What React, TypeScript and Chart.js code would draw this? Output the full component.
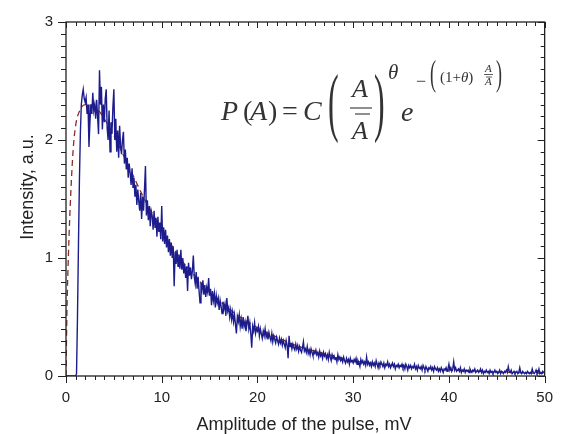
import React, { useEffect, useRef } from "react";
import { Chart, registerables } from "chart.js";

Chart.register(...registerables);

// Measured pulse-amplitude spectrum, sampled every 0.1 mV from 0 to 50 mV
const blueStep = 0.1;
const blueY: number[] = [
  0, 0, 0, 0, 0, 0, 0, 0, 0, 0,
  0, 0.02, 0.5, 1.1, 1.65, 2.05, 2.3, 2.38, 2.43, 2.35,
  2.32, 2.36, 2.22, 2.3, 1.94, 2.15, 2.3, 2.22, 2.4, 2.25,
  2.3, 2.18, 2.34, 2.2, 2.05, 2.59, 2.3, 2.45, 2.09, 2.3,
  2.15, 2.35, 2.43, 2.1, 2.0, 2.25, 1.9, 2.15, 2.05, 2.28,
  2.43, 2.0, 2.18, 1.9, 2.08, 1.85, 2.12, 1.95, 1.88, 2.0,
  2.07, 1.8, 1.92, 1.75, 1.85, 1.68, 1.8, 1.72, 1.62, 1.76,
  1.6, 1.68, 1.52, 1.62, 1.45, 1.58, 1.48, 1.4, 1.55, 1.33,
  1.52, 1.4, 1.58, 1.78, 1.36, 1.49, 1.32, 1.44, 1.27, 1.4,
  1.36, 1.24, 1.4, 1.26, 1.34, 1.18, 1.35, 1.22, 1.3, 1.16,
  1.44, 1.14, 1.26, 1.12, 1.24, 1.09, 1.19, 1.05, 1.16, 1.02,
  1.13, 1.0, 1.1, 0.76, 1.05, 0.95, 1.07, 0.93, 1.03, 0.91,
  1.07, 0.9, 1.0, 0.87, 0.95, 0.83, 0.93, 0.72, 0.96, 0.85,
  0.92, 0.82, 0.89, 1.02, 0.84, 0.78, 0.88, 0.74, 0.84, 0.72,
  0.62, 0.79, 0.73, 0.81, 0.69, 0.77, 0.67, 0.75, 0.71, 0.83,
  0.68, 0.74, 0.6, 0.72, 0.64, 0.7, 0.58, 0.68, 0.62, 0.66,
  0.56, 0.64, 0.59, 0.53, 0.63, 0.57, 0.61, 0.51, 0.66, 0.55,
  0.58, 0.5, 0.56, 0.48, 0.54, 0.46, 0.52, 0.44, 0.36, 0.5,
  0.46, 0.52, 0.42, 0.48, 0.4, 0.5, 0.42, 0.46, 0.38, 0.44,
  0.51, 0.4, 0.45, 0.36, 0.24, 0.42, 0.38, 0.45, 0.36, 0.4,
  0.38, 0.42, 0.34, 0.4, 0.36, 0.32, 0.38, 0.34, 0.4, 0.33,
  0.36, 0.31, 0.37, 0.33, 0.3, 0.36, 0.29, 0.34, 0.31, 0.28,
  0.33, 0.3, 0.27, 0.32, 0.28, 0.31, 0.26, 0.3, 0.27, 0.24,
  0.3, 0.26, 0.15, 0.34, 0.25, 0.28, 0.23, 0.27, 0.24, 0.22,
  0.27, 0.23, 0.26, 0.21, 0.25, 0.22, 0.2, 0.24, 0.29, 0.21,
  0.23, 0.2, 0.25, 0.19, 0.22, 0.18, 0.23, 0.2, 0.17, 0.21,
  0.19, 0.22, 0.18, 0.2, 0.16, 0.21, 0.17, 0.19, 0.15, 0.2,
  0.17, 0.19, 0.15, 0.18, 0.14, 0.2, 0.16, 0.13, 0.18, 0.15,
  0.17, 0.14, 0.16, 0.12, 0.18, 0.14, 0.16, 0.13, 0.15, 0.12,
  0.16, 0.13, 0.11, 0.15, 0.12, 0.14, 0.1, 0.15, 0.12, 0.13,
  0.11, 0.14, 0.12, 0.15, 0.1, 0.13, 0.11, 0.08, 0.14, 0.11,
  0.13, 0.1, 0.12, 0.09, 0.16, 0.1, 0.12, 0.09, 0.11, 0.08,
  0.12, 0.09, 0.11, 0.08, 0.13, 0.1, 0.07, 0.11, 0.09, 0.12,
  0.1, 0.08, 0.11, 0.07, 0.1, 0.09, 0.12, 0.08, 0.1, 0.07,
  0.09, 0.11, 0.08, 0.1, 0.06, 0.09, 0.08, 0.1, 0.07, 0.09,
  0.08, 0.1, 0.07, 0.09, 0.06, 0.1, 0.08, 0.05, 0.09, 0.07,
  0.09, 0.06, 0.08, 0.07, 0.1, 0.06, 0.08, 0.05, 0.09, 0.07,
  0.06, 0.08, 0.05, 0.09, 0.07, 0.05, 0.08, 0.06, 0.04, 0.07,
  0.06, 0.08, 0.05, 0.07, 0.04, 0.08, 0.06, 0.05, 0.07, 0.04,
  0.06, 0.04, 0.07, 0.05, 0.03, 0.06, 0.05, 0.07, 0.04, 0.06,
  0.1, 0.05, 0.07, 0.04, 0.06, 0.12, 0.05, 0.07, 0.04, 0.05,
  0.06, 0.04, 0.07, 0.03, 0.05, 0.04, 0.06, 0.03, 0.05, 0.04,
  0.05, 0.03, 0.06, 0.04, 0.03, 0.05, 0.04, 0.06, 0.03, 0.04,
  0.05, 0.03, 0.04, 0.06, 0.03, 0.05, 0.02, 0.04, 0.03, 0.05,
  0.03, 0.04, 0.02, 0.05, 0.03, 0.04, 0.02, 0.03, 0.05, 0.03,
  0.04, 0.02, 0.03, 0.05, 0.02, 0.04, 0.03, 0.02, 0.04, 0.03,
  0.05, 0.03, 0.08, 0.04, 0.03, 0.05, 0.02, 0.03, 0.04, 0.02,
  0.03, 0.04, 0.02, 0.03, 0.07, 0.03, 0.02, 0.04, 0.03, 0.02,
  0.03, 0.02, 0.04, 0.03, 0.02, 0.03, 0.02, 0.06, 0.03, 0.02,
  0.03, 0.05, 0.02, 0.03, 0.06, 0.02, 0.03, 0.02, 0.04, 0.03,
  0.03,
];

// Fitted curve P(A) (red dashed)
const fitX: number[] = [0, 0.1, 0.25, 0.5, 0.75, 1, 1.5, 2, 2.5, 3, 3.5, 4, 5, 6, 7, 8, 9, 10, 11, 12, 13, 14, 15, 16, 18, 20, 22, 24, 26, 28, 30, 33, 36, 40, 45, 50];
const fitY: number[] = [0, 0.55, 1.02, 1.55, 1.92, 2.12, 2.26, 2.3, 2.3, 2.28, 2.24, 2.18, 2.04, 1.87, 1.7, 1.53, 1.38, 1.24, 1.11, 0.99, 0.89, 0.8, 0.71, 0.64, 0.51, 0.41, 0.33, 0.26, 0.21, 0.17, 0.13, 0.1, 0.075, 0.052, 0.034, 0.022];

const xTicks: number[] = [0, 10, 20, 30, 40, 50];
const yTicks: number[] = [0, 1, 2, 3];

const xTitle = "Amplitude of the pulse, mV";
const yTitle = "Intensity, a.u.";

const AXIS = "#222";
const FORMULA = "#333";

const decorPlugin = {
  id: "decor",
  afterDatasetsDraw(chart: any) {
    const ctx: CanvasRenderingContext2D = chart.ctx;
    const { left, right, top, bottom } = chart.chartArea;
    const xs = chart.scales.x;
    const ys = chart.scales.y;
    ctx.save();
    ctx.strokeStyle = AXIS;
    ctx.lineWidth = 1.3;
    ctx.strokeRect(left, top, right - left, bottom - top);
    ctx.lineWidth = 1;
    ctx.beginPath();
    for (let v = 0; v <= 50; v++) {
      const px = Math.round(xs.getPixelForValue(v)) + 0.5;
      const major = v % 10 === 0;
      ctx.moveTo(px, bottom);
      ctx.lineTo(px, bottom + (major ? 7 : 4));
      ctx.moveTo(px, top);
      ctx.lineTo(px, top + (major ? 6 : 4));
    }
    for (let i = 0; i <= 30; i++) {
      const v = i / 10;
      const py = Math.round(ys.getPixelForValue(v)) + 0.5;
      const major = i % 10 === 0;
      ctx.moveTo(left, py);
      ctx.lineTo(left - (major ? 8 : 5), py);
      ctx.moveTo(right, py);
      ctx.lineTo(right - (major ? 7 : 4), py);
    }
    ctx.stroke();

    // axis titles
    ctx.fillStyle = AXIS;
    ctx.font = '18px "Liberation Sans", Arial, sans-serif';
    ctx.textAlign = "center";
    ctx.textBaseline = "alphabetic";
    ctx.fillText(xTitle, 304, 430);
    ctx.save();
    ctx.translate(33, 187);
    ctx.rotate(-Math.PI / 2);
    ctx.fillText(yTitle, 0, 0);
    ctx.restore();

    // formula
    ctx.textAlign = "left";
    ctx.fillStyle = FORMULA;
    const it = (s: number) => `italic ${s}px "Liberation Serif", serif`;
    const rm = (s: number) => `${s}px "Liberation Serif", serif`;
    const put = (t: string, x: number, y: number, f: string, sx = 1) => {
      ctx.save();
      ctx.translate(x, y);
      ctx.scale(sx, 1);
      ctx.font = f;
      ctx.fillText(t, 0, 0);
      ctx.restore();
    };
    const line = (x1: number, x2: number, y: number, w: number) => {
      ctx.save();
      ctx.strokeStyle = FORMULA;
      ctx.lineWidth = w;
      ctx.beginPath();
      ctx.moveTo(x1, y);
      ctx.lineTo(x2, y);
      ctx.stroke();
      ctx.restore();
    };
    put("P", 221, 120, it(28));
    put("(", 243, 120, rm(28));
    put("A", 250, 120, it(28));
    put(")", 268, 120, rm(28));
    put("=", 282, 120, rm(28));
    put("C", 303, 120, it(28));
    put("(", 328, 127, rm(76), 0.42);
    put("A", 352, 97, it(26));
    line(350, 372, 108, 1.1);
    line(355, 370, 114, 1.1);
    put("A", 352, 139, it(26));
    put(")", 374, 127, rm(76), 0.42);
    put("θ", 388, 79, it(21));
    put("e", 401, 121, it(28));
    put("−", 416, 87, rm(18));
    put("(", 430, 85, rm(36), 0.5);
    put("(1+", 440, 82, rm(15));
    ctx.font = rm(15);
    const w1 = ctx.measureText("(1+").width;
    put("θ", 440 + w1, 82, it(15));
    ctx.font = it(15);
    const w2 = ctx.measureText("θ").width;
    put(")", 440 + w1 + w2, 82, rm(15));
    put("A", 485, 72, it(11));
    line(484, 493, 74.5, 0.8);
    line(486, 492, 77, 0.8);
    put("A", 485, 85, it(11));
    put(")", 496, 85, rm(36), 0.5);
    ctx.restore();
  },
};

export default function App() {
  const ref = useRef<HTMLCanvasElement | null>(null);
  useEffect(() => {
    if (!ref.current) return;
    const blueData = blueY.map((y, i) => ({ x: +(i * blueStep).toFixed(1), y }));
    const fitData = fitX.map((x, i) => ({ x, y: fitY[i] }));
    const tickFont = { family: '"Liberation Sans", Arial, sans-serif', size: 15 };
    const chart = new Chart(ref.current, {
      type: "line",
      data: {
        datasets: [
          {
            data: blueData,
            borderColor: "#1c1c8c",
            borderWidth: 1.4,
            pointRadius: 0,
            tension: 0,
            order: 0,
          },
          {
            data: fitData,
            borderColor: "#8e2a2a",
            borderWidth: 1.3,
            borderDash: [6, 4],
            pointRadius: 0,
            cubicInterpolationMode: "monotone",
            order: 1,
          },
        ],
      },
      options: {
        animation: false,
        responsive: false,
        devicePixelRatio: 1,
        events: [],
        layout: { padding: { top: 16, right: 13, left: 0, bottom: 0 } },
        plugins: { legend: { display: false }, tooltip: { enabled: false } },
        scales: {
          x: {
            type: "linear",
            min: 0,
            max: 50,
            grid: { display: false, drawTicks: false, tickLength: 0 },
            border: { display: false },
            afterBuildTicks: (s: any) => {
              s.ticks = xTicks.map((v) => ({ value: v }));
            },
            ticks: { font: tickFont, color: AXIS, padding: 13, maxRotation: 0 },
            afterFit: (s: any) => {
              s.height = 58;
            },
          },
          y: {
            type: "linear",
            min: 0,
            max: 3,
            grid: { display: false, drawTicks: false, tickLength: 0 },
            border: { display: false },
            afterBuildTicks: (s: any) => {
              s.ticks = yTicks.map((v) => ({ value: v }));
            },
            ticks: { font: tickFont, color: AXIS, padding: 13 },
            afterFit: (s: any) => {
              s.width = 66;
            },
          },
        },
      },
      plugins: [decorPlugin],
    });
    return () => chart.destroy();
  }, []);
  return (
    <canvas
      ref={ref}
      width={566}
      height={434}
      style={{ position: "absolute", left: 0, top: 0, background: "#fff" }}
    />
  );
}
